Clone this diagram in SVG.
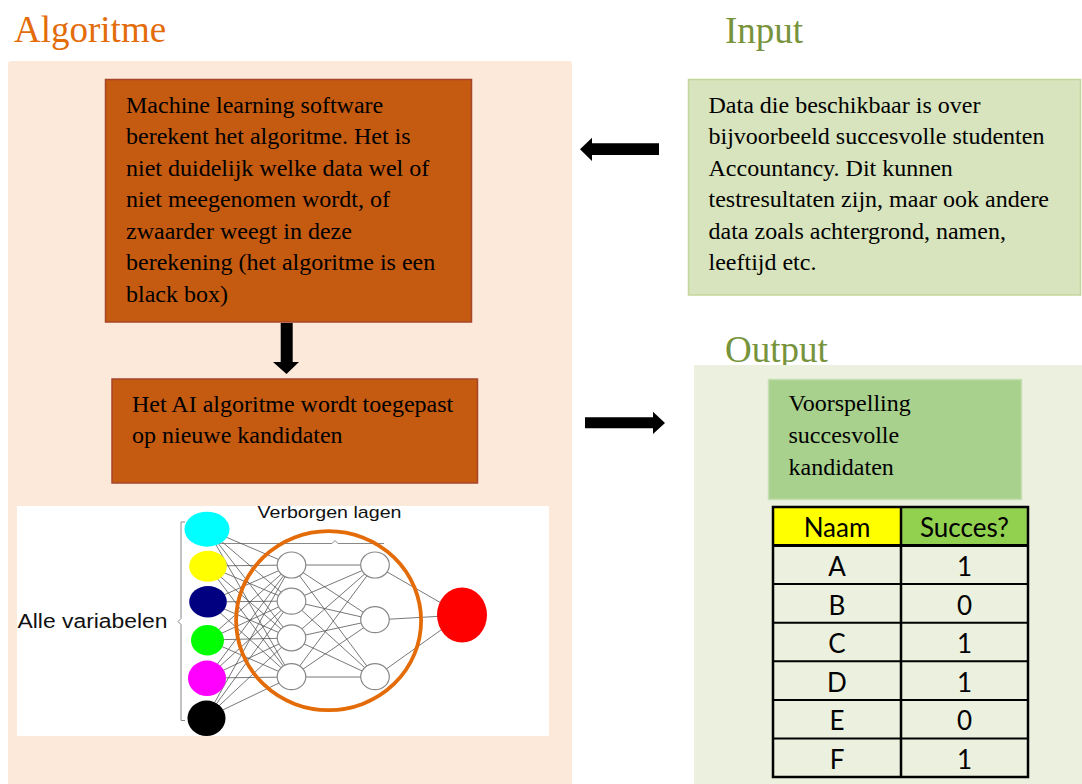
<svg xmlns="http://www.w3.org/2000/svg" width="1082" height="784" viewBox="0 0 1082 784">
<defs>
<style>
.t{font-family:"Liberation Serif","Times New Roman",serif;font-size:24px;fill:#000}
.h{font-family:"Liberation Serif","Times New Roman",serif;font-size:37px}
.orange{fill:#C55A11;stroke:#A5452A;stroke-width:1.5}
.cell{font-family:Lato,"Liberation Sans",sans-serif;font-size:26px;fill:#000;text-anchor:middle}
.nn{stroke:#555;stroke-width:0.8;fill:none}
.hid{fill:#fff;stroke:#888;stroke-width:1.2}
.arrow{fill:#000}
</style>
</defs>
<rect width="1082" height="784" fill="#fff"/>

<g id="panel-algoritme">
<rect x="8" y="61" width="564" height="730" rx="3" fill="#FDE9DA"/>
<text class="h" x="14" y="42" fill="#E36C09">Algoritme</text>
</g>

<g id="node-ml">
<rect class="orange" x="105.5" y="79.5" width="366" height="242.5"/>
<text class="t" x="126" y="112.5">Machine learning software</text>
<text class="t" x="126" y="144">berekent het algoritme. Het is</text>
<text class="t" x="126" y="175.5">niet duidelijk welke data wel of</text>
<text class="t" x="126" y="207">niet meegenomen wordt, of</text>
<text class="t" x="126" y="238.5">zwaarder weegt in deze</text>
<text class="t" x="126" y="270">berekening (het algoritme is een</text>
<text class="t" x="126" y="301.5">black box)</text>
</g>

<g id="node-apply">
<rect class="orange" x="112" y="379" width="365.5" height="104"/>
<text class="t" x="132" y="411.5">Het AI algoritme wordt toegepast</text>
<text class="t" x="132" y="443">op nieuwe kandidaten</text>
</g>

<g id="node-input">
<text class="h" x="725" y="42.5" fill="#77933C">Input</text>
<rect x="688.5" y="79.5" width="392" height="215.5" fill="#D7E4BD" stroke="#C3D69B" stroke-width="1.5"/>
<text class="t" x="708.5" y="112.5">Data die beschikbaar is over</text>
<text class="t" x="708.5" y="144">bijvoorbeeld succesvolle studenten</text>
<text class="t" x="708.5" y="175.5">Accountancy. Dit kunnen</text>
<text class="t" x="708.5" y="207">testresultaten zijn, maar ook andere</text>
<text class="t" x="708.5" y="238.5">data zoals achtergrond, namen,</text>
<text class="t" x="708.5" y="270">leeftijd etc.</text>
</g>

<g id="node-output">
<text class="h" x="725" y="362" fill="#77933C">Output</text>
<rect x="694" y="365" width="388" height="419" fill="#EBF0DF"/>
<rect x="768.5" y="379.5" width="253" height="120" fill="#A9D18E" stroke="#C5DFB3" stroke-width="1.5"/>
<text class="t" x="788.5" y="411">Voorspelling</text>
<text class="t" x="788.5" y="443">succesvolle</text>
<text class="t" x="788.5" y="475">kandidaten</text>
</g>

<g id="node-table">
<rect x="773" y="507" width="128" height="38.5" fill="#FFFF00"/>
<rect x="901" y="507" width="127" height="38.5" fill="#92D050"/>
<g stroke="#000" stroke-width="2.5" fill="none">
<rect x="773" y="507" width="255" height="270"/>
<line x1="901" y1="507" x2="901" y2="777"/>
<line x1="773" y1="545.5" x2="1028" y2="545.5" stroke-width="3"/>
<line x1="773" y1="584.1" x2="1028" y2="584.1" stroke-width="2"/>
<line x1="773" y1="622.7" x2="1028" y2="622.7" stroke-width="2"/>
<line x1="773" y1="661.3" x2="1028" y2="661.3" stroke-width="2"/>
<line x1="773" y1="699.9" x2="1028" y2="699.9" stroke-width="2"/>
<line x1="773" y1="738.5" x2="1028" y2="738.5" stroke-width="2"/>
</g>
<text class="cell" x="837" y="537">Naam</text>
<text class="cell" x="964.5" y="537">Succes?</text>
<text class="cell" x="837" y="576">A</text><text class="cell" x="964.5" y="576">1</text>
<text class="cell" x="837" y="614.5">B</text><text class="cell" x="964.5" y="614.5">0</text>
<text class="cell" x="837" y="653">C</text><text class="cell" x="964.5" y="653">1</text>
<text class="cell" x="837" y="691.5">D</text><text class="cell" x="964.5" y="691.5">1</text>
<text class="cell" x="837" y="730">E</text><text class="cell" x="964.5" y="730">0</text>
<text class="cell" x="837" y="768.5">F</text><text class="cell" x="964.5" y="768.5">1</text>
</g>

<g id="connectors">
<polygon class="arrow" points="280.7,323 292.7,323 292.7,362 299,362 286.5,374 273,362 280.7,362"/>
<polygon class="arrow" points="659,143.3 592,143.3 592,137.7 580,149.2 592,161 592,155 659,155"/>
<polygon class="arrow" points="585,417.3 653,417.3 653,411.7 665,423 653,434 653,428.3 585,428.3"/>
</g>

<g id="node-network">
<rect x="17" y="506" width="532" height="230" fill="#fff"/>
<text x="257.5" y="518" font-family="'Liberation Sans',Arial,sans-serif" font-size="17" textLength="144" lengthAdjust="spacingAndGlyphs" fill="#111">Verborgen lagen</text>
<text x="17.5" y="628" font-family="'Liberation Sans',Arial,sans-serif" font-size="20" textLength="150" lengthAdjust="spacingAndGlyphs" fill="#111">Alle variabelen</text>
<path d="M185,522 L181,522 L181,618.5 L178,621.5 L181,624.5 L181,720.5 L185,720.5" fill="none" stroke="#888" stroke-width="1"/>
<path d="M218,543.5 L332,543.5 L335,540.5 L338,543.5 L384,543.5" fill="none" stroke="#888" stroke-width="1"/>
<g class="nn">
<path d="M207,529 L291.5,565 M207,529 L291.5,601 M207,529 L291.5,638 M207,529 L291.5,677"/>
<path d="M208,566 L291.5,565 M208,566 L291.5,601 M208,566 L291.5,638 M208,566 L291.5,677"/>
<path d="M208,602 L291.5,565 M208,602 L291.5,601 M208,602 L291.5,638 M208,602 L291.5,677"/>
<path d="M207,640 L291.5,565 M207,640 L291.5,601 M207,640 L291.5,638 M207,640 L291.5,677"/>
<path d="M207,678 L291.5,565 M207,678 L291.5,601 M207,678 L291.5,638 M207,678 L291.5,677"/>
<path d="M206,718 L291.5,565 M206,718 L291.5,601 M206,718 L291.5,638 M206,718 L291.5,677"/>
<path d="M291.5,565 L375,565 M291.5,565 L375,620 M291.5,565 L375,677"/>
<path d="M291.5,601 L375,565 M291.5,601 L375,620 M291.5,601 L375,677"/>
<path d="M291.5,638 L375,565 M291.5,638 L375,620 M291.5,638 L375,677"/>
<path d="M291.5,677 L375,565 M291.5,677 L375,620 M291.5,677 L375,677"/>
<path d="M375,565 L462,615 M375,620 L462,615 M375,677 L462,615"/>
</g>
<ellipse cx="207" cy="529.2" rx="22.5" ry="17.5" fill="#00FFFF"/>
<ellipse cx="208" cy="566.2" rx="18.8" ry="15.5" fill="#FFFF00"/>
<ellipse cx="208" cy="601.7" rx="18.8" ry="15.7" fill="#000080"/>
<ellipse cx="207.5" cy="640.3" rx="16.5" ry="15.3" fill="#00FF00"/>
<ellipse cx="207" cy="678.3" rx="19" ry="17.7" fill="#FF00FF"/>
<ellipse cx="206.5" cy="718.3" rx="19" ry="17.7" fill="#000"/>
<ellipse class="hid" cx="291.5" cy="565" rx="14.3" ry="13"/>
<ellipse class="hid" cx="291.5" cy="601.2" rx="14.3" ry="13"/>
<ellipse class="hid" cx="291.5" cy="637.8" rx="14.3" ry="13"/>
<ellipse class="hid" cx="291.5" cy="676.7" rx="14.3" ry="13"/>
<ellipse class="hid" cx="375" cy="565" rx="14.3" ry="13"/>
<ellipse class="hid" cx="375" cy="619.7" rx="14.3" ry="13"/>
<ellipse class="hid" cx="375" cy="676.7" rx="14.3" ry="13"/>
<ellipse cx="462" cy="615" rx="25" ry="27.5" fill="#FF0000"/>
<ellipse cx="328.6" cy="620.7" rx="92.5" ry="89.5" fill="none" stroke="#E36C09" stroke-width="3.8"/>
</g>
</svg>
